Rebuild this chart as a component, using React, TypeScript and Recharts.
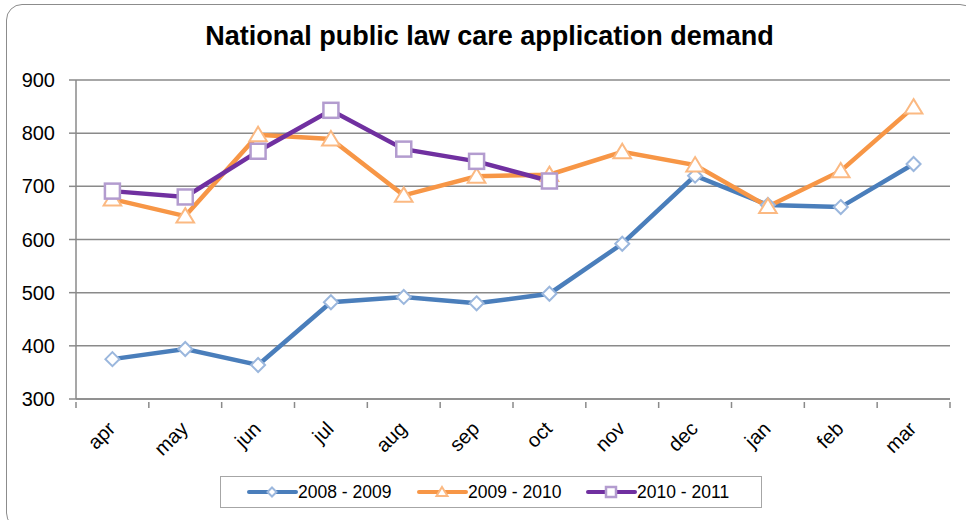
import React from "react";
import { LineChart, Line, XAxis, YAxis, CartesianGrid, Legend } from "recharts";

const months = ["apr", "may", "jun", "jul", "aug", "sep", "oct", "nov", "dec", "jan", "feb", "mar"];
const s2008: (number | null)[] = [375, 394, 364, 482, 492, 480, 498, 592, 720, 665, 661, 742];
const s2009: (number | null)[] = [676, 644, 797, 789, 683, 719, 722, 765, 740, 662, 729, 849];
const s2010: (number | null)[] = [691, 680, 766, 843, 770, 747, 710, null, null, null, null, null];
const yTicks = [300, 400, 500, 600, 700, 800, 900];

const seriesNames = ["2008 - 2009", "2009 - 2010", "2010 - 2011"];

const data = months.map((m, i) => ({
  month: m,
  a: s2008[i],
  b: s2009[i],
  c: s2010[i],
}));

const FONT = "'Liberation Sans', Arial, sans-serif";
const BLUE = "#4a7ebb";
const ORANGE = "#f79646";
const PURPLE = "#7030a0";
const BLUE_M = "#9bb7dd";
const ORANGE_M = "#fbb982";
const PURPLE_M = "#b39ccf";
const AXIS = "#8a8a8a";

const W = 966;
const H = 520;
const M_LEFT = 76;
const M_RIGHT = 16;
const PLOT_W = W - M_LEFT - M_RIGHT;

function diamond(cx: number, cy: number, r: number, stroke: string, key?: any) {
  return (
    <polygon
      key={key}
      points={`${cx},${cy - r} ${cx + r},${cy} ${cx},${cy + r} ${cx - r},${cy}`}
      fill="#fff"
      stroke={stroke}
      strokeWidth={2}
    />
  );
}
function triangle(cx: number, cy: number, r: number, stroke: string, key?: any) {
  return (
    <polygon
      key={key}
      points={`${cx},${cy - r} ${cx + r * 1.1},${cy + r * 0.8} ${cx - r * 1.1},${cy + r * 0.8}`}
      fill="#fff"
      stroke={stroke}
      strokeWidth={2}
    />
  );
}
function square(cx: number, cy: number, r: number, stroke: string, key?: any) {
  return (
    <rect key={key} x={cx - r} y={cy - r} width={2 * r} height={2 * r} fill="#fff" stroke={stroke} strokeWidth={2.5} />
  );
}

const DotA = (p: any) => (p.cx == null || p.value == null ? <g key={p.key} /> : diamond(p.cx, p.cy, 7, BLUE_M, p.key));
const DotB = (p: any) => (p.cx == null || p.value == null ? <g key={p.key} /> : triangle(p.cx, p.cy, 8, ORANGE_M, p.key));
const DotC = (p: any) => (p.cx == null || p.value == null ? <g key={p.key} /> : square(p.cx, p.cy, 7.5, PURPLE_M, p.key));

const XTick = (props: any) => {
  const { x, y, payload, index } = props;
  const bw = PLOT_W / months.length;
  const ax = x + 4;
  const ay = y + 23;
  return (
    <g>
      <line x1={x - bw / 2} y1={y - 5} x2={x - bw / 2} y2={y + 1} stroke={AXIS} strokeWidth={1.5} />
      {index === months.length - 1 && (
        <line x1={x + bw / 2} y1={y - 5} x2={x + bw / 2} y2={y + 1} stroke={AXIS} strokeWidth={1.5} />
      )}
      <text
        x={ax}
        y={ay}
        transform={`rotate(-45, ${ax}, ${ay})`}
        textAnchor="end"
        fontSize={20}
        fontFamily={FONT}
        fill="#000"
      >
        {payload.value}
      </text>
    </g>
  );
};

const renderLegend = () => {
  const items = [
    { name: seriesNames[0], color: BLUE, marker: (cx: number) => diamond(cx, 16, 4.5, BLUE_M) },
    { name: seriesNames[1], color: ORANGE, marker: (cx: number) => triangle(cx, 16, 5, ORANGE_M) },
    { name: seriesNames[2], color: PURPLE, marker: (cx: number) => square(cx, 16, 5, PURPLE_M) },
  ];
  const starts = [29, 199, 368];
  return (
    <svg width={542} height={32} style={{ display: "block" }}>
      <rect x={0.5} y={0.5} width={541} height={31} fill="#fff" stroke="#a6a6a6" strokeWidth={1} />
      {items.map((it, i) => (
        <g key={it.name}>
          <line x1={starts[i]} y1={16} x2={starts[i] + 47} y2={16} stroke={it.color} strokeWidth={4} strokeLinecap="round" />
          {it.marker(starts[i] + 23)}
          <text x={starts[i] + 49} y={22} fontSize={17.5} fontFamily={FONT} fill="#000">
            {it.name}
          </text>
        </g>
      ))}
    </svg>
  );
};

export default function App() {
  return (
    <div style={{ position: "absolute", left: 0, top: 0, width: W, height: H, overflow: "hidden", background: "#fff" }}>
      <div
        style={{
          position: "absolute",
          left: 6,
          top: 4,
          width: 970,
          height: 525,
          border: "1.5px solid #8c8c8c",
          borderRadius: 16,
          boxSizing: "border-box",
        }}
      />
      <div
        style={{
          position: "absolute",
          left: 0,
          top: 20,
          width: 979,
          textAlign: "center",
          fontFamily: FONT,
          fontWeight: "bold",
          fontSize: 27,
          lineHeight: "32px",
          color: "#000",
        }}
      >
        National public law care application demand
      </div>
      <div style={{ position: "absolute", left: 0, top: 0 }}>
        <LineChart width={W} height={H} data={data} margin={{ top: 80, right: M_RIGHT, bottom: 0, left: 0 }}>
          <CartesianGrid vertical={false} stroke={AXIS} strokeWidth={1.5} strokeDasharray="" />
          <XAxis
            dataKey="month"
            scale="band"
            interval={0}
            height={121}
            axisLine={{ stroke: AXIS, strokeWidth: 1.5 }}
            tickLine={false}
            tick={<XTick />}
          />
          <YAxis
            domain={[300, 900]}
            ticks={yTicks}
            width={M_LEFT}
            interval={0}
            axisLine={{ stroke: AXIS, strokeWidth: 1.5 }}
            tickLine={{ stroke: AXIS, strokeWidth: 1.5 }}
            tickSize={7}
            tickMargin={14}
            tick={{ fontSize: 20, fontFamily: FONT, fill: "#000" }}
          />
          <Legend
            layout="vertical"
            verticalAlign="middle"
            align="center"
            wrapperStyle={{ position: "absolute", left: 220, top: 476, width: 542, height: 32 }}
            content={renderLegend}
          />
          <Line dataKey="a" name={seriesNames[0]} stroke={BLUE} strokeWidth={4.5} dot={DotA} activeDot={false} isAnimationActive={false} />
          <Line dataKey="b" name={seriesNames[1]} stroke={ORANGE} strokeWidth={4.5} dot={DotB} activeDot={false} isAnimationActive={false} />
          <Line dataKey="c" name={seriesNames[2]} stroke={PURPLE} strokeWidth={4.5} dot={DotC} activeDot={false} isAnimationActive={false} />
        </LineChart>
      </div>
    </div>
  );
}
